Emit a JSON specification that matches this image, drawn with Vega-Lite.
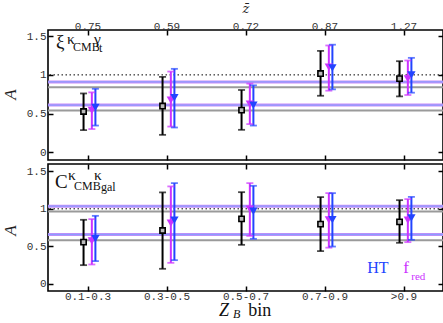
{
  "$schema": "https://vega.github.io/schema/vega-lite/v6.json",
  "autosize": {"type": "pad"},
  "padding": {"left": 0, "top": 1, "right": 0, "bottom": 0},
  "background": "white",
  "config": {
    "view": {"stroke": "black", "strokeWidth": 1.6},
    "axis": {"grid": false, "domain": false, "tickSize": -5, "tickColor": "black", "tickWidth": 1.5,
             "labelFont": "Liberation Mono", "labelFontSize": 11, "labelColor": "#333",
             "titleFont": "Liberation Serif", "titleFontWeight": "normal", "titleColor": "#222"}
  },
  "spacing": 0,
  "datasets": {
    "pts": [
      {"p": "xi", "s": "data", "x": 0.95, "y": 0.527, "lo": 0.286, "hi": 0.76},
      {"p": "xi", "s": "fred", "x": 1.055, "y": 0.54, "lo": 0.30, "hi": 0.774},
      {"p": "xi", "s": "HT", "x": 1.1, "y": 0.58, "lo": 0.345, "hi": 0.82},
      {"p": "xi", "s": "data", "x": 1.95, "y": 0.597, "lo": 0.225, "hi": 0.974},
      {"p": "xi", "s": "fred", "x": 2.055, "y": 0.675, "lo": 0.332, "hi": 1.043},
      {"p": "xi", "s": "HT", "x": 2.1, "y": 0.705, "lo": 0.32, "hi": 1.078},
      {"p": "xi", "s": "data", "x": 2.95, "y": 0.545, "lo": 0.29, "hi": 0.805},
      {"p": "xi", "s": "fred", "x": 3.055, "y": 0.623, "lo": 0.364, "hi": 0.887},
      {"p": "xi", "s": "HT", "x": 3.1, "y": 0.61, "lo": 0.345, "hi": 0.865},
      {"p": "xi", "s": "data", "x": 3.95, "y": 1.017, "lo": 0.73, "hi": 1.31},
      {"p": "xi", "s": "fred", "x": 4.055, "y": 1.10, "lo": 0.796, "hi": 1.38},
      {"p": "xi", "s": "HT", "x": 4.1, "y": 1.09, "lo": 0.813, "hi": 1.39},
      {"p": "xi", "s": "data", "x": 4.95, "y": 0.952, "lo": 0.722, "hi": 1.177},
      {"p": "xi", "s": "fred", "x": 5.055, "y": 0.95, "lo": 0.74, "hi": 1.186},
      {"p": "xi", "s": "HT", "x": 5.1, "y": 1.0, "lo": 0.77, "hi": 1.22},
      {"p": "C", "s": "data", "x": 0.95, "y": 0.554, "lo": 0.246, "hi": 0.853},
      {"p": "C", "s": "fred", "x": 1.055, "y": 0.57, "lo": 0.255, "hi": 0.862},
      {"p": "C", "s": "HT", "x": 1.1, "y": 0.60, "lo": 0.30, "hi": 0.906},
      {"p": "C", "s": "data", "x": 1.95, "y": 0.71, "lo": 0.197, "hi": 1.22},
      {"p": "C", "s": "fred", "x": 2.055, "y": 0.808, "lo": 0.277, "hi": 1.30},
      {"p": "C", "s": "HT", "x": 2.1, "y": 0.849, "lo": 0.313, "hi": 1.344},
      {"p": "C", "s": "data", "x": 2.95, "y": 0.866, "lo": 0.518, "hi": 1.223},
      {"p": "C", "s": "fred", "x": 3.055, "y": 0.996, "lo": 0.638, "hi": 1.344},
      {"p": "C", "s": "HT", "x": 3.1, "y": 0.969, "lo": 0.598, "hi": 1.308},
      {"p": "C", "s": "data", "x": 3.95, "y": 0.795, "lo": 0.434, "hi": 1.157},
      {"p": "C", "s": "fred", "x": 4.055, "y": 0.853, "lo": 0.48, "hi": 1.21},
      {"p": "C", "s": "HT", "x": 4.1, "y": 0.857, "lo": 0.495, "hi": 1.21},
      {"p": "C", "s": "data", "x": 4.95, "y": 0.826, "lo": 0.545, "hi": 1.116},
      {"p": "C", "s": "fred", "x": 5.055, "y": 0.849, "lo": 0.554, "hi": 1.13},
      {"p": "C", "s": "HT", "x": 5.1, "y": 0.88, "lo": 0.585, "hi": 1.16}
    ],
    "lines": [
      {"p": "xi", "k": "fit", "y": 0.909},
      {"p": "xi", "k": "fit", "y": 0.61},
      {"p": "xi", "k": "gray", "y": 0.839},
      {"p": "xi", "k": "gray", "y": 0.54},
      {"p": "C", "k": "fit", "y": 1.036},
      {"p": "C", "k": "fit", "y": 0.656},
      {"p": "C", "k": "gray", "y": 0.964},
      {"p": "C", "k": "gray", "y": 0.581}
    ],
    "ann": [
      {"p": "xi", "t": "ξ", "x": 0.601, "y": 1.35, "sz": "big"},
      {"p": "xi", "t": "κ", "x": 0.741, "y": 1.405, "sz": "mid"},
      {"p": "xi", "t": "CMB", "x": 0.817, "y": 1.31, "sz": "small"},
      {"p": "xi", "t": "γ", "x": 1.083, "y": 1.405, "sz": "mid"},
      {"p": "xi", "t": "t", "x": 1.146, "y": 1.30, "sz": "small"},
      {"p": "C", "t": "C", "x": 0.589, "y": 1.281, "sz": "big"},
      {"p": "C", "t": "κ", "x": 0.753, "y": 1.388, "sz": "mid"},
      {"p": "C", "t": "CMB", "x": 0.829, "y": 1.254, "sz": "small"},
      {"p": "C", "t": "κ", "x": 1.083, "y": 1.388, "sz": "mid"},
      {"p": "C", "t": "gal", "x": 1.171, "y": 1.241, "sz": "small"}
    ],
    "one": [{}]
  },
  "vconcat": [
    {
      "width": 395, "height": 130,
      "layer": [
        {
          "data": {"name": "lines"},
          "transform": [{"filter": "datum.p == 'xi' && datum.k == 'gray'"}],
          "mark": {"type": "rule", "stroke": "#9a9a9a", "strokeWidth": 2},
          "encoding": {"y": {"field": "y", "type": "quantitative", "axis": null, "scale": {"domain": [-0.1, 1.58], "nice": false, "zero": false}}}
        },
        {
          "data": {"name": "lines"},
          "transform": [{"filter": "datum.p == 'xi' && datum.k == 'fit'"}],
          "mark": {"type": "rule", "stroke": "#c98cf7", "strokeWidth": 3},
          "encoding": {"y": {"field": "y", "type": "quantitative", "axis": null}}
        },
        {
          "data": {"name": "lines"},
          "transform": [{"filter": "datum.p == 'xi' && datum.k == 'fit'"}],
          "mark": {"type": "rule", "stroke": "#8c9cff", "strokeWidth": 1.3},
          "encoding": {"y": {"field": "y", "type": "quantitative", "axis": null}}
        },
        {
          "data": {"name": "one"},
          "mark": {"type": "rule", "stroke": "black", "strokeWidth": 1, "strokeDash": [1.5, 2.5]},
          "encoding": {"y": {"datum": 1, "type": "quantitative", "axis": null}}
        },
        {
          "data": {"name": "pts"},
          "transform": [{"filter": "datum.p == 'xi'"}],
          "mark": {"type": "rule", "strokeWidth": 2},
          "encoding": {
            "x": {"field": "x", "type": "quantitative", "scale": {"domain": [0.5, 5.5], "nice": false, "zero": false},
                  "axis": {"orient": "bottom", "values": [1, 2, 3, 4, 5], "labels": false, "title": null}},
            "y": {"field": "lo", "type": "quantitative",
                  "axis": {"orient": "left", "values": [0, 0.5, 1, 1.5], "format": "~g", "labelPadding": 7, "title": "A", "titleFontSize": 17, "titleFontStyle": "italic", "titleX": -29, "titleY": 64, "titleAngle": 270, "titleBaseline": "bottom"}},
            "y2": {"field": "hi"},
            "color": {"field": "s", "type": "nominal", "scale": {"domain": ["data", "fred", "HT"], "range": ["black", "#cc33ff", "#2244ff"]}, "legend": null}
          }
        },
        {
          "data": {"name": "pts"},
          "transform": [{"filter": "datum.p == 'xi'"}],
          "mark": {"type": "tick", "orient": "horizontal", "size": 7, "thickness": 1.8},
          "encoding": {"x": {"field": "x", "type": "quantitative", "axis": null}, "y": {"field": "lo", "type": "quantitative", "axis": null}, "color": {"field": "s", "type": "nominal", "legend": null}}
        },
        {
          "data": {"name": "pts"},
          "transform": [{"filter": "datum.p == 'xi'"}],
          "mark": {"type": "tick", "orient": "horizontal", "size": 7, "thickness": 1.8},
          "encoding": {"x": {"field": "x", "type": "quantitative", "axis": null}, "y": {"field": "hi", "type": "quantitative", "axis": null}, "color": {"field": "s", "type": "nominal", "legend": null}}
        },
        {
          "data": {"name": "pts"},
          "transform": [{"filter": "datum.p == 'xi' && datum.s != 'data'"}],
          "mark": {"type": "point", "shape": "triangle-down", "filled": true, "size": 70, "opacity": 1},
          "encoding": {"x": {"field": "x", "type": "quantitative", "axis": null}, "y": {"field": "y", "type": "quantitative", "axis": null}, "color": {"field": "s", "type": "nominal", "legend": null}}
        },
        {
          "data": {"name": "pts"},
          "transform": [{"filter": "datum.p == 'xi' && datum.s == 'data'"}],
          "mark": {"type": "point", "shape": "square", "filled": true, "fill": "#bbbbbb", "stroke": "black", "strokeWidth": 1.6, "size": 28, "opacity": 1},
          "encoding": {
            "x": {"field": "x", "type": "quantitative",
                  "axis": {"orient": "top", "values": [1, 2, 3, 4, 5], "labelPadding": 4,
                           "labelExpr": "datum.value == 1 ? '0.75' : datum.value == 2 ? '0.59' : datum.value == 3 ? '0.72' : datum.value == 4 ? '0.87' : '1.27'",
                           "title": "z̄", "titleFont": "DejaVu Serif", "titleFontSize": 13, "titleFontStyle": "italic", "titlePadding": 5}},
            "y": {"field": "y", "type": "quantitative", "axis": {"orient": "right", "values": [0, 0.5, 1, 1.5], "labels": false, "title": null}}
          }
        },
        {
          "data": {"name": "ann"},
          "transform": [{"filter": "datum.p == 'xi'"}],
          "mark": {"type": "text", "align": "left", "baseline": "alphabetic", "font": "Liberation Serif", "color": "#111"},
          "encoding": {
            "x": {"field": "x", "type": "quantitative", "axis": null},
            "y": {"field": "y", "type": "quantitative", "axis": null},
            "text": {"field": "t"},
            "size": {"field": "sz", "type": "nominal", "scale": {"domain": ["big", "mid", "small"], "range": [19, 12, 8]}, "legend": null}
          }
        }
      ],
      "resolve": {"axis": {"x": "independent", "y": "independent"}}
    },
    {
      "width": 395, "height": 127,
      "layer": [
        {
          "data": {"name": "lines"},
          "transform": [{"filter": "datum.p == 'C' && datum.k == 'gray'"}],
          "mark": {"type": "rule", "stroke": "#9a9a9a", "strokeWidth": 2},
          "encoding": {"y": {"field": "y", "type": "quantitative", "axis": null, "scale": {"domain": [-0.1, 1.6], "nice": false, "zero": false}}}
        },
        {
          "data": {"name": "lines"},
          "transform": [{"filter": "datum.p == 'C' && datum.k == 'fit'"}],
          "mark": {"type": "rule", "stroke": "#c98cf7", "strokeWidth": 3},
          "encoding": {"y": {"field": "y", "type": "quantitative", "axis": null}}
        },
        {
          "data": {"name": "lines"},
          "transform": [{"filter": "datum.p == 'C' && datum.k == 'fit'"}],
          "mark": {"type": "rule", "stroke": "#8c9cff", "strokeWidth": 1.3},
          "encoding": {"y": {"field": "y", "type": "quantitative", "axis": null}}
        },
        {
          "data": {"name": "one"},
          "mark": {"type": "rule", "stroke": "black", "strokeWidth": 1, "strokeDash": [1.5, 2.5]},
          "encoding": {"y": {"datum": 1, "type": "quantitative", "axis": null}}
        },
        {
          "data": {"name": "pts"},
          "transform": [{"filter": "datum.p == 'C'"}],
          "mark": {"type": "rule", "strokeWidth": 2},
          "encoding": {
            "x": {"field": "x", "type": "quantitative", "scale": {"domain": [0.5, 5.5], "nice": false, "zero": false},
                  "axis": {"orient": "bottom", "values": [1, 2, 3, 4, 5], "labelPadding": 4,
                           "labelExpr": "datum.value == 1 ? '0.1-0.3' : datum.value == 2 ? '0.3-0.5' : datum.value == 3 ? '0.5-0.7' : datum.value == 4 ? '0.7-0.9' : '>0.9'",
                           "title": null}},
            "y": {"field": "lo", "type": "quantitative",
                  "axis": {"orient": "left", "values": [0, 0.5, 1, 1.5], "format": "~g", "labelPadding": 7, "title": "A", "titleFontSize": 17, "titleFontStyle": "italic", "titleX": -29, "titleY": 66, "titleAngle": 270, "titleBaseline": "bottom"}},
            "y2": {"field": "hi"},
            "color": {"field": "s", "type": "nominal", "scale": {"domain": ["data", "fred", "HT"], "range": ["black", "#cc33ff", "#2244ff"]}, "legend": null}
          }
        },
        {
          "data": {"name": "pts"},
          "transform": [{"filter": "datum.p == 'C'"}],
          "mark": {"type": "tick", "orient": "horizontal", "size": 7, "thickness": 1.8},
          "encoding": {"x": {"field": "x", "type": "quantitative", "axis": null}, "y": {"field": "lo", "type": "quantitative", "axis": null}, "color": {"field": "s", "type": "nominal", "legend": null}}
        },
        {
          "data": {"name": "pts"},
          "transform": [{"filter": "datum.p == 'C'"}],
          "mark": {"type": "tick", "orient": "horizontal", "size": 7, "thickness": 1.8},
          "encoding": {"x": {"field": "x", "type": "quantitative", "axis": null}, "y": {"field": "hi", "type": "quantitative", "axis": null}, "color": {"field": "s", "type": "nominal", "legend": null}}
        },
        {
          "data": {"name": "pts"},
          "transform": [{"filter": "datum.p == 'C' && datum.s != 'data'"}],
          "mark": {"type": "point", "shape": "triangle-down", "filled": true, "size": 70, "opacity": 1},
          "encoding": {"x": {"field": "x", "type": "quantitative", "axis": null}, "y": {"field": "y", "type": "quantitative", "axis": null}, "color": {"field": "s", "type": "nominal", "legend": null}}
        },
        {
          "data": {"name": "pts"},
          "transform": [{"filter": "datum.p == 'C' && datum.s == 'data'"}],
          "mark": {"type": "point", "shape": "square", "filled": true, "fill": "#bbbbbb", "stroke": "black", "strokeWidth": 1.6, "size": 28, "opacity": 1},
          "encoding": {
            "x": {"field": "x", "type": "quantitative",
                  "axis": {"orient": "top", "values": [1, 2, 3, 4, 5], "labels": false, "title": null}},
            "y": {"field": "y", "type": "quantitative", "axis": {"orient": "right", "values": [0, 0.5, 1, 1.5], "labels": false, "title": null}}
          }
        },
        {
          "data": {"name": "ann"},
          "transform": [{"filter": "datum.p == 'C'"}],
          "mark": {"type": "text", "align": "left", "baseline": "alphabetic", "font": "Liberation Serif", "color": "#111"},
          "encoding": {
            "x": {"field": "x", "type": "quantitative", "axis": null},
            "y": {"field": "y", "type": "quantitative", "axis": null},
            "text": {"field": "t"},
            "size": {"field": "sz", "type": "nominal", "scale": {"domain": ["big", "mid", "small"], "range": [19, 12, 8]}, "legend": null}
          }
        },
        {
          "data": {"name": "one"},
          "mark": {"type": "text", "align": "left", "baseline": "alphabetic", "font": "Liberation Serif", "fontSize": 16, "color": "#2244ff"},
          "encoding": {"x": {"datum": 4.541, "type": "quantitative", "axis": null}, "y": {"datum": 0.143, "type": "quantitative", "axis": null}, "text": {"value": "HT"}}
        },
        {
          "data": {"name": "one"},
          "mark": {"type": "text", "align": "left", "baseline": "alphabetic", "font": "Liberation Serif", "fontSize": 17, "color": "#cc33ff"},
          "encoding": {"x": {"datum": 4.997, "type": "quantitative", "axis": null}, "y": {"datum": 0.143, "type": "quantitative", "axis": null}, "text": {"value": "f"}}
        },
        {
          "data": {"name": "one"},
          "mark": {"type": "text", "align": "left", "baseline": "alphabetic", "font": "Liberation Serif", "fontSize": 11, "color": "#cc33ff"},
          "encoding": {"x": {"datum": 5.098, "type": "quantitative", "axis": null}, "y": {"datum": 0.05, "type": "quantitative", "axis": null}, "text": {"value": "red"}}
        },
        {
          "data": {"name": "one"},
          "mark": {"type": "text", "align": "left", "baseline": "alphabetic", "font": "Liberation Serif", "fontSize": 18, "fontStyle": "italic", "color": "#111"},
          "encoding": {"x": {"datum": 2.666, "type": "quantitative", "axis": null}, "y": {"datum": -0.432, "type": "quantitative", "axis": null}, "text": {"value": "Z"}}
        },
        {
          "data": {"name": "one"},
          "mark": {"type": "text", "align": "left", "baseline": "alphabetic", "font": "Liberation Serif", "fontSize": 12, "fontStyle": "italic", "color": "#111"},
          "encoding": {"x": {"datum": 2.843, "type": "quantitative", "axis": null}, "y": {"datum": -0.46, "type": "quantitative", "axis": null}, "text": {"value": "B"}}
        },
        {
          "data": {"name": "one"},
          "mark": {"type": "text", "align": "left", "baseline": "alphabetic", "font": "Liberation Serif", "fontSize": 18, "color": "#111"},
          "encoding": {"x": {"datum": 3.034, "type": "quantitative", "axis": null}, "y": {"datum": -0.432, "type": "quantitative", "axis": null}, "text": {"value": "bin"}}
        }
      ],
      "resolve": {"axis": {"x": "independent", "y": "independent"}}
    }
  ]
}
